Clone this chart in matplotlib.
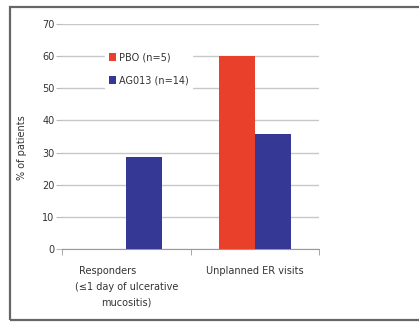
import matplotlib
matplotlib.use("Agg")
import matplotlib.pyplot as plt
from matplotlib.patches import Rectangle
import numpy as np

categories = ["Responders            \n(\u22641 day of ulcerative\nmucositis)", "Unplanned ER visits"]
series_names = ["PBO (n=5)", "AG013 (n=14)"]
pbo = [0, 60]
ag013 = [28.6, 35.7]
yticks = [0, 10, 20, 30, 40, 50, 60, 70]
colors = ["#E8402A", "#363896"]

plt.rcParams['font.family'] = ['DejaVu Sans']
fig = plt.figure(figsize=(4.19, 3.23), dpi=100)
W, H = 419, 323
ax = fig.add_axes([62 / W, 1 - 249 / H, (319 - 62) / W, (249 - 24) / H])

x = np.arange(len(categories))
bw = 36 / 128.5
ax.bar(x - bw / 2, pbo, bw, color=colors[0], label=series_names[0], zorder=3)
ax.bar(x + bw / 2, ag013, bw, color=colors[1], label=series_names[1], zorder=3)

fs = 7
ax.set_xlim(-0.5, 1.5)
ax.set_ylim(0, 70)
ax.set_yticks(yticks)
ax.set_yticklabels([str(t) for t in yticks], fontsize=fs, color="#333333")
ax.yaxis.grid(True, color="#c8c8c8", linewidth=1.0, zorder=0)
ax.set_axisbelow(True)
ax.set_xticks(x)
ax.set_xticklabels(categories, fontsize=fs, color="#333333", linespacing=1.75)
ax.set_xticks([-0.5, 0.5, 1.5], minor=True)
ax.tick_params(axis='x', which='major', length=0, pad=12)
ax.tick_params(axis='x', which='minor', length=4, color="#999999")
ax.tick_params(axis='y', length=4, color="#bbbbbb", pad=1.5)
for s in ["top", "right", "left"]:
    ax.spines[s].set_visible(False)
ax.spines["bottom"].set_color("#999999")
ax.set_ylabel("% of patients", fontsize=fs, color="#333333")
ax.yaxis.set_label_coords(-0.135, 0.45)

leg = ax.legend(loc="upper left", bbox_to_anchor=(0.15, 0.91), fontsize=fs, frameon=True,
                facecolor="white", edgecolor="white", framealpha=1, handlelength=0.7,
                handleheight=0.9, handletextpad=0.3, labelspacing=1.3, borderpad=0.35)
for t in leg.get_texts():
    t.set_color("#333333")

border = Rectangle((10 / W, 3 / H), (W + 10) / W, (318 - 5) / H, transform=fig.transFigure,
                   fill=False, edgecolor="#666666", linewidth=1.6)
fig.patches.append(border)

fig.savefig("out.png", dpi=100)
